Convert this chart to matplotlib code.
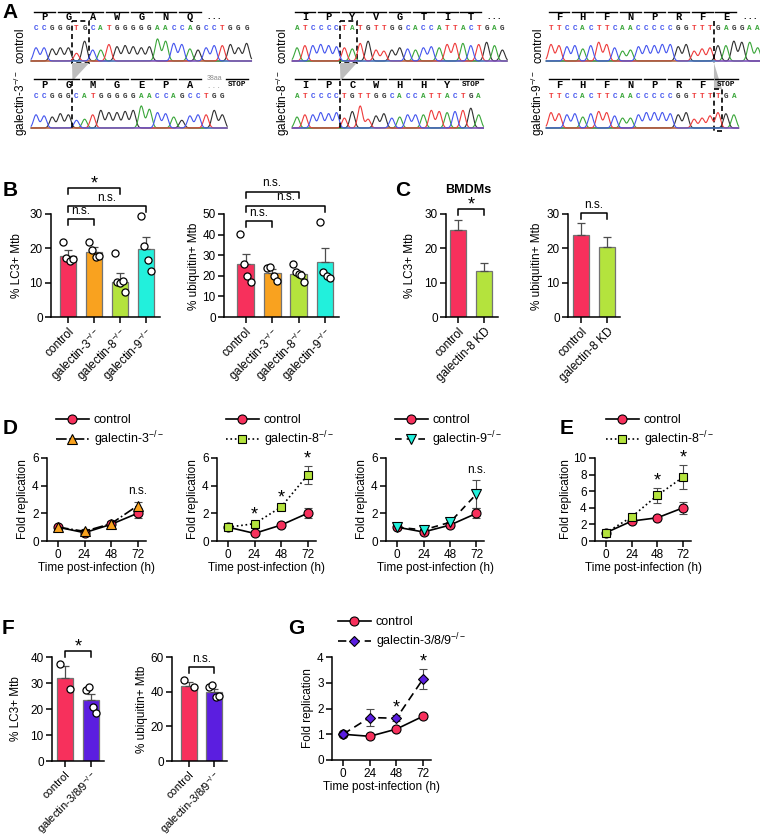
import numpy as np
import matplotlib
matplotlib.use("Agg")
import matplotlib.pyplot as plt
from matplotlib.patches import Rectangle, Polygon

plt.rcParams['font.family'] = ['Liberation Sans', 'DejaVu Sans']
plt.rcParams['mathtext.fontset'] = 'custom'
plt.rcParams['mathtext.rm'] = 'Liberation Sans'
plt.rcParams['mathtext.it'] = 'Liberation Sans:italic'
plt.rcParams['mathtext.bf'] = 'Liberation Sans:bold'
plt.rcParams['mathtext.default'] = 'regular'
plt.rcParams['axes.linewidth'] = 1.1

# ---------------- data ----------------
# A: sequencing reads (control / knockout) and approximate peak heights
seq_ctrl = ["CCGGGTGCATGGGGGAACCAGCCTGGG",
            "ATCCCCTATGTTGGCACCATTACTGAG",
            "TTCCACTTCAACCCCCGGTTTGAGGAA"]
seq_ko = ["CCGGGCATGGGGGAACCAGCCTGG",
          "ATCCCCTGTTGGCACCATTACTGA",
          "TTCCACTTCAACCCCCGGTTTTGA"]
aa_ctrl = ["PGAWGNQ", "IPYVGTIT", "FHFNPRFE"]
aa_ko = ["PGMGEPA", "IPCWHHY", "FHFNPRF"]
ko_labels = ["galectin-3$^{-/-}$", "galectin-8$^{-/-}$", "galectin-9$^{-/-}$"]
peaks_ctrl = [
    [.6, .6, .55, .6, .6, .35, .9, .5, .5, .75, .65, .7, .65, .6, .65, 1.0, .9, .8, .75, .55, .5, .6, .7, .7, .75, .6, .8],
    [.6, .7, .7, .75, .7, .65, .6, .55, .8, .9, .5, .45, .5, .6, .55, .5, .6, .65, .6, .75, .8, .8, .7, .75, .85, .7, .5],
    [.75, .7, .65, .7, .55, .7, .85, .75, .6, .45, .5, .65, .7, .7, .75, .75, .65, .75, .45, .55, .6, .7, .7, .9, .85, .85, .6]]
peaks_ko = [
    [.6, .55, .5, .65, .6, .35, .4, .6, .8, .7, .7, .75, .8, 1.0, .85, .7, .65, .5, .35, .55, .6, .6, .8, .6],
    [.5, .6, .6, .7, .65, .7, .45, .75, 1.0, .4, .55, .65, .45, .5, .6, .6, .6, .8, .75, .7, .75, .8, .9, .6],
    [.7, .65, .6, .65, .5, .65, .75, .7, .55, .45, .45, .6, .7, .7, .7, .65, .6, .7, .4, .45, .55, .7, .65, .6]]

# B
b_cats = ["control", "galectin-3$^{-/-}$", "galectin-8$^{-/-}$", "galectin-9$^{-/-}$"]
b_lc3_mean = [17.8, 19.0, 10.3, 19.8]
b_lc3_sem = [1.6, 1.3, 2.6, 3.5]
b_lc3_pts = [[21.8, 17.2, 16.2, 16.8], [21.8, 19.6, 17.6, 17.8],
             [18.6, 10.2, 10.0, 10.4, 7.4], [29.5, 20.7, 16.6, 13.5]]
b_ub_mean = [25.5, 21.5, 21.0, 26.8]
b_ub_sem = [5.3, 2.0, 1.5, 6.8]
b_ub_pts = [[40.3, 25.5, 20.0, 17.0], [24.0, 24.5, 20.0, 17.5],
            [25.5, 22.0, 21.0, 20.5, 17.0], [46.0, 22.0, 20.0, 19.0]]

# C (BMDMs)
c_cats = ["control", "galectin-8 KD"]
c_lc3_mean = [25.2, 13.3]
c_lc3_sem = [3.0, 2.3]
c_ub_mean = [24.0, 20.5]
c_ub_sem = [3.3, 2.9]

# D, E, G: fold replication
hours = [0, 24, 48, 72]
d1_ctrl, d1_ctrl_sem = [1.0, 0.6, 1.2, 2.0], [0.05, 0.1, 0.1, 0.35]
d1_g3, d1_g3_sem = [1.0, 0.7, 1.25, 2.55], [0.05, 0.15, 0.2, 0.3]
d2_ctrl, d2_ctrl_sem = [1.0, 0.55, 1.15, 2.0], [0.05, 0.08, 0.1, 0.35]
d2_g8, d2_g8_sem = [1.0, 1.25, 2.45, 4.75], [0.05, 0.1, 0.15, 0.65]
d3_ctrl, d3_ctrl_sem = [1.0, 0.65, 1.15, 2.0], [0.05, 0.1, 0.1, 0.35]
d3_g9, d3_g9_sem = [1.0, 0.8, 1.35, 3.4], [0.1, 0.2, 0.2, 1.0]
e_ctrl, e_ctrl_sem = [1.0, 2.4, 2.8, 4.0], [0.05, 0.1, 0.15, 0.7]
e_g8, e_g8_sem = [1.0, 2.9, 5.5, 7.7], [0.05, 0.2, 0.9, 1.4]
g_ctrl, g_ctrl_sem = [1.0, 0.92, 1.2, 1.7], [0.03, 0.05, 0.05, 0.05]
g_g389, g_g389_sem = [1.0, 1.65, 1.62, 3.15], [0.03, 0.32, 0.12, 0.38]

# F
f_cats = ["control", "galectin-3/8/9$^{-/-}$"]
f_lc3_mean = [32.0, 23.5]
f_lc3_sem = [4.5, 2.4]
f_lc3_pts = [[37.3, 27.7], [27.3, 28.6, 20.9, 18.6]]
f_ub_mean = [43.5, 40.0]
f_ub_sem = [2.2, 1.5]
f_ub_pts = [[46.7, 42.6], [42.6, 43.8, 37.0, 37.5]]

# ---------------- style ----------------
RED, ORANGE, LIME, CYAN, PURPLE = '#F7305C', '#F9A21F', '#B4E33D', '#22F0DC', '#5B1EE0'
base_col = {'A': '#3AA63A', 'C': '#4455EE', 'G': '#303030', 'T': '#EE3B3B'}

W, H = 760, 836
fig = plt.figure(figsize=(W / 100, H / 100), dpi=100)


def px_axes(x0, y0, x1, y1):
    ax = fig.add_axes([x0 / W, 1 - y1 / H, (x1 - x0) / W, (y1 - y0) / H])
    ax.set_facecolor('none')
    return ax


def ftext(x, y, s, **kw):
    return fig.text(x / W, 1 - y / H, s, **kw)


ov = fig.add_axes([0, 0, 1, 1])
ov.set_xlim(0, W)
ov.set_ylim(H, 0)
ov.axis('off')
ov.set_facecolor('none')

# ---------------- A ----------------
blk_x0 = [36, 297, 551]
blk_dx = [8.1, 7.9, 7.95]
lab_x = [21, 283, 538]


def trace(seq, hts, x0, dx, base_y, amp, x_end):
    xs = np.linspace(x0 - dx * 0.6, x_end, 900)
    for b in 'GATC':
        y = np.zeros_like(xs)
        for i, (s, h) in enumerate(zip(seq, hts)):
            if s == b:
                y += h * np.exp(-0.5 * ((xs - (x0 + i * dx)) / (0.3 * dx)) ** 2)
        ov.plot(xs, base_y - amp * y, color=base_col[b], lw=0.8)


def seq_row(seq, aa, x0, dx, y_over, y_aa, y_base):
    for i, s in enumerate(seq):
        ov.text(x0 + i * dx, y_base, s, color=base_col[s], fontsize=5.5,
                family='Liberation Mono', weight='bold', ha='center', va='center')
    for k, a in enumerate(aa):
        xa, xb = x0 + 3 * k * dx - 2.5, x0 + (3 * k + 2) * dx + 2.5
        ov.plot([xa, xb], [y_over, y_over], color='k', lw=1.0)
        ov.text(x0 + (3 * k + 1) * dx, y_aa, a, fontsize=7.5, family='Liberation Mono',
                weight='bold', ha='center', va='center')


for j in range(3):
    x0, dx = blk_x0[j], blk_dx[j]
    xc = lambda i: x0 + i * dx
    # control
    seq_row(seq_ctrl[j], aa_ctrl[j], x0, dx, 12, 17.5, 28.5)
    trace(seq_ctrl[j], peaks_ctrl[j], x0, dx, 61, 22, xc(len(seq_ctrl[j]) - 1) + dx * 0.6)
    ov.text(xc(3 * len(aa_ctrl[j]) + 1), 16.5, '. . .', fontsize=6.5, weight='bold', ha='center', va='center')
    # knockout
    seq_row(seq_ko[j], aa_ko[j], x0, dx, 79, 84.5, 96.5)
    trace(seq_ko[j], peaks_ko[j], x0, dx, 128, 22, xc(len(seq_ko[j]) - 1) + dx * 0.6)
    ftext(lab_x[j], 45, 'control', rotation=90, ha='center', va='center', fontsize=8.5)
    ftext(lab_x[j], 103, ko_labels[j], rotation=90, ha='center', va='center', fontsize=8.5)

# block 1 extras
x0, dx = blk_x0[0], blk_dx[0]
ov.text(x0 + 22 * dx, 78, '38aa', fontsize=5, color='0.55', ha='center', va='center')
ov.text(x0 + 22 * dx, 86, '. . .', fontsize=6, color='0.55', ha='center', va='center')
ov.text(237, 84.5, 'STOP', fontsize=5.5, family='Liberation Mono', weight='bold', ha='center', va='center')
ov.plot([226, 248], [79, 79], color='k', lw=1.0)
bx0, bx1 = x0 + 5 * dx - 4.5, x0 + 6 * dx + 4.5
ov.add_patch(Rectangle((bx0, 21), bx1 - bx0, 42, fill=False, ls=(0, (3, 2)), lw=1.2, ec='k'))
xk = x0 + 4.5 * dx
ov.add_patch(Polygon([(bx0, 63), (bx1, 63), (xk, 81)], closed=True, fc='#BDBDBD', ec='none'))
ov.plot([xk, xk], [81, 131], color='k', lw=1.2, ls=(0, (3, 2)))

# block 2 extras
x0, dx = blk_x0[1], blk_dx[1]
ov.text(x0 + 22 * dx, 84.5, 'STOP', fontsize=5.5, family='Liberation Mono', weight='bold', ha='center', va='center')
ov.plot([x0 + 21 * dx - 3, x0 + 23 * dx + 4], [79, 79], color='k', lw=1.0)
bx0, bx1 = x0 + 6 * dx - 4.5, x0 + 7 * dx + 4.5
ov.add_patch(Rectangle((bx0, 21), bx1 - bx0, 42, fill=False, ls=(0, (3, 2)), lw=1.2, ec='k'))
xk = x0 + 5.5 * dx
ov.add_patch(Polygon([(bx0, 63), (bx1, 63), (xk, 81)], closed=True, fc='#BDBDBD', ec='none'))
ov.plot([xk, xk], [81, 131], color='k', lw=1.2, ls=(0, (3, 2)))

# block 3 extras
x0, dx = blk_x0[2], blk_dx[2]
ov.text(x0 + 22 * dx, 84.5, 'STOP', fontsize=5.5, family='Liberation Mono', weight='bold', ha='center', va='center')
ov.plot([x0 + 21 * dx - 3, x0 + 23 * dx + 4], [79, 79], color='k', lw=1.0)
xl = x0 + 20.5 * dx
ov.plot([xl, xl], [21, 63], color='k', lw=1.2, ls=(0, (3, 2)))
bx0, bx1 = x0 + 21 * dx - 4, x0 + 21 * dx + 4
ov.add_patch(Polygon([(xl, 63), (bx0, 89), (bx1, 89)], closed=True, fc='#BDBDBD', ec='none'))
ov.add_patch(Rectangle((bx0, 89), bx1 - bx0, 42, fill=False, ls=(0, (3, 2)), lw=1.2, ec='k'))


# ---------------- helpers for bar and line panels ----------------
def style_ax(ax):
    for s in ['top', 'right']:
        ax.spines[s].set_visible(False)
    ax.tick_params(direction='out', length=4, width=1.1, labelsize=8.5, pad=2)


def bar_panel(box, cats, means, sems, colors, ymax, yticks, xlim, pts=None):
    ax = px_axes(*box)
    x = np.arange(len(cats))
    ax.bar(x, means, width=0.64, color=colors, edgecolor='0.45', linewidth=0.9, zorder=2)
    ax.errorbar(x, means, yerr=[np.zeros(len(x)), sems], fmt='none', ecolor='0.3',
                elinewidth=0.9, capsize=3, capthick=0.9, zorder=3)
    if pts is not None:
        for i, p in enumerate(pts):
            off = np.linspace(-0.2, 0.2, len(p)) if len(p) > 1 else np.zeros(1)
            ax.scatter(x[i] + off, p, s=26, facecolor='white', edgecolor='k', linewidth=0.9,
                       zorder=4, clip_on=False)
    ax.set_xlim(*xlim)
    ax.set_ylim(0, ymax)
    ax.set_yticks(yticks)
    ax.set_xticks(x)
    ax.set_xticklabels(cats, rotation=45, ha='right', rotation_mode='anchor')
    style_ax(ax)
    return ax


def bracket(ax, x1, x2, y, txt, h):
    ax.plot([x1, x1, x2, x2], [y - h, y, y, y - h], color='k', lw=1.1, clip_on=False)
    if txt == '*':
        ax.annotate('*', ((x1 + x2) / 2, y), xytext=(0, -3), textcoords='offset points',
                    ha='center', va='bottom', fontsize=13, annotation_clip=False)
    else:
        ax.annotate(txt, ((x1 + x2) / 2, y), xytext=(0, 1.5), textcoords='offset points',
                    ha='center', va='bottom', fontsize=8.5, annotation_clip=False)


# ---------------- B ----------------
b_cols = [RED, ORANGE, LIME, CYAN]
ax = bar_panel((51, 214, 160, 317), b_cats, b_lc3_mean, b_lc3_sem, b_cols, 30, [0, 10, 20, 30],
               (-0.65, 3.54), b_lc3_pts)
bracket(ax, 0, 1, 28.6, 'n.s.', 1.8)
bracket(ax, 0, 3, 32.4, 'n.s.', 1.8)
bracket(ax, 0, 2, 37.6, '*', 1.8)
ftext(17, 266, '% LC3+ Mtb', rotation=90, ha='center', va='center', fontsize=8.5)

ax = bar_panel((224, 214, 339, 317), b_cats, b_ub_mean, b_ub_sem, b_cols, 50, [0, 10, 20, 30, 40, 50],
               (-0.82, 3.53), b_ub_pts)
bracket(ax, 0, 1, 46.4, 'n.s.', 2.9)
bracket(ax, 0, 3, 54.1, 'n.s.', 2.9)
bracket(ax, 0, 2, 60.9, 'n.s.', 2.9)
ftext(194, 266, '% ubiquitin+ Mtb', rotation=90, ha='center', va='center', fontsize=8.5)

# ---------------- C ----------------
ax = bar_panel((446, 214, 498, 317), c_cats, c_lc3_mean, c_lc3_sem, [RED, LIME], 30, [0, 10, 20, 30],
               (-0.46, 1.54))
bracket(ax, 0, 1, 31.5, '*', 1.8)
ftext(410, 266, '% LC3+ Mtb', rotation=90, ha='center', va='center', fontsize=8.5)
ftext(468, 190, 'BMDMs', ha='center', va='center', fontsize=9, weight='bold')

ax = bar_panel((568, 214, 620, 317), c_cats, c_ub_mean, c_ub_sem, [RED, LIME], 30, [0, 10, 20, 30],
               (-0.5, 1.5))
bracket(ax, 0, 1, 30.3, 'n.s.', 1.8)
ftext(537, 266, '% ubiquitin+ Mtb', rotation=90, ha='center', va='center', fontsize=8.5)

# ---------------- F ----------------
ax = bar_panel((52, 657, 104, 761), f_cats, f_lc3_mean, f_lc3_sem, [RED, PURPLE], 40, [0, 10, 20, 30, 40],
               (-0.5, 1.5), f_lc3_pts)
ax.tick_params(axis='x', labelsize=8)
bracket(ax, 0, 1, 42.3, '*', 2.3)
ftext(16, 709, '% LC3+ Mtb', rotation=90, ha='center', va='center', fontsize=8.5)

ax = bar_panel((172, 657, 227, 761), f_cats, f_ub_mean, f_ub_sem, [RED, PURPLE], 60, [0, 20, 40, 60],
               (-0.68, 1.52), f_ub_pts)
ax.tick_params(axis='x', labelsize=8)
bracket(ax, 0, 1, 54.0, 'n.s.', 3.5)
ftext(142, 709, '% ubiquitin+ Mtb', rotation=90, ha='center', va='center', fontsize=8.5)


# ---------------- line panels ----------------
def line_panel(axis_x, first_x, step, y0, ytop, ymax, yticks, sets, marks, leg_xy, ylab_dx=24):
    pxh = step / 24.0
    right = first_x + 3 * step + 8
    ax = px_axes(axis_x, ytop, right, y0)
    handles = []
    for (m, s, lab, ls, mk, col, ms) in sets:
        ax.errorbar(hours, m, yerr=s, fmt='none', ecolor='0.3', elinewidth=0.8, capsize=3,
                    capthick=0.8, zorder=2, clip_on=False)
        ln, = ax.plot(hours, m, ls=ls, color='k', lw=1.2, marker=mk, ms=ms, mfc=col, mec='k',
                      mew=0.8, label=lab, zorder=3, clip_on=False)
        handles.append(ln)
    for (t, txt, top) in marks:
        if txt == '*':
            ax.annotate('*', (t, top), xytext=(0, -1), textcoords='offset points', ha='center',
                        va='bottom', fontsize=13, annotation_clip=False)
        else:
            ax.annotate(txt, (t, top), xytext=(0, 3), textcoords='offset points', ha='center',
                        va='bottom', fontsize=8.5, annotation_clip=False)
    ax.set_xlim(-(first_x - axis_x) / pxh, 72 + (right - first_x - 3 * step) / pxh)
    ax.set_ylim(0, ymax)
    ax.set_xticks(hours)
    ax.set_yticks(yticks)
    style_ax(ax)
    ax.legend(handles=handles, loc='upper left', bbox_to_anchor=(leg_xy[0] / W, 1 - leg_xy[1] / H),
              bbox_transform=fig.transFigure, frameon=False, fontsize=9, handlelength=2.6,
              handletextpad=0.4, borderpad=0, borderaxespad=0, labelspacing=0.3, numpoints=1)
    ftext((axis_x + right) / 2, y0 + 27, 'Time post-infection (h)', ha='center', va='center', fontsize=8.5)
    ftext(axis_x - ylab_dx, (y0 + ytop) / 2, 'Fold replication', rotation=90, ha='center',
          va='center', fontsize=8.5)
    return ax


line_panel(47, 58, 26.5, 541, 458, 6, [0, 2, 4, 6],
           [(d1_ctrl, d1_ctrl_sem, 'control', '-', 'o', RED, 6.5),
            (d1_g3, d1_g3_sem, 'galectin-3$^{-/-}$', '-.', '^', ORANGE, 6.5)],
           [(72, 'n.s.', d1_g3[3] + d1_g3_sem[3])], (56, 414))
line_panel(217, 228, 26.5, 541, 458, 6, [0, 2, 4, 6],
           [(d2_ctrl, d2_ctrl_sem, 'control', '-', 'o', RED, 6.5),
            (d2_g8, d2_g8_sem, 'galectin-8$^{-/-}$', ':', 's', LIME, 6)],
           [(24, '*', d2_g8[1] + d2_g8_sem[1]), (48, '*', d2_g8[2] + d2_g8_sem[2]),
            (72, '*', d2_g8[3] + d2_g8_sem[3])], (226, 414))
line_panel(386, 397, 26.5, 541, 458, 6, [0, 2, 4, 6],
           [(d3_ctrl, d3_ctrl_sem, 'control', '-', 'o', RED, 6.5),
            (d3_g9, d3_g9_sem, 'galectin-9$^{-/-}$', (0, (4, 3)), 'v', CYAN, 6.5)],
           [(72, 'n.s.', d3_g9[3] + d3_g9_sem[3])], (395, 414))
line_panel(595, 606, 25.7, 541, 458, 10, [0, 2, 4, 6, 8, 10],
           [(e_ctrl, e_ctrl_sem, 'control', '-', 'o', RED, 6.5),
            (e_g8, e_g8_sem, 'galectin-8$^{-/-}$', ':', 's', LIME, 6)],
           [(48, '*', e_g8[2] + e_g8_sem[2]), (72, '*', e_g8[3] + e_g8_sem[3])], (606, 414),
           ylab_dx=29)
line_panel(332, 343, 26.7, 760, 657, 4, [0, 1, 2, 3, 4],
           [(g_ctrl, g_ctrl_sem, 'control', '-', 'o', RED, 6.5),
            (g_g389, g_g389_sem, 'galectin-3/8/9$^{-/-}$', (0, (5, 3)), 'D', PURPLE, 5)],
           [(48, '*', g_g389[2] + g_g389_sem[2]), (72, '*', g_g389[3] + g_g389_sem[3])], (338, 616))

# ---------------- panel letters ----------------
for lt, x, y in [('A', 10, 12), ('B', 10, 191), ('C', 403, 191), ('D', 10, 428),
                 ('E', 567, 428), ('F', 8, 628), ('G', 296, 628)]:
    ftext(x, y, lt, fontsize=15, weight='bold', ha='center', va='center')

fig.savefig('out.png', dpi=100)
